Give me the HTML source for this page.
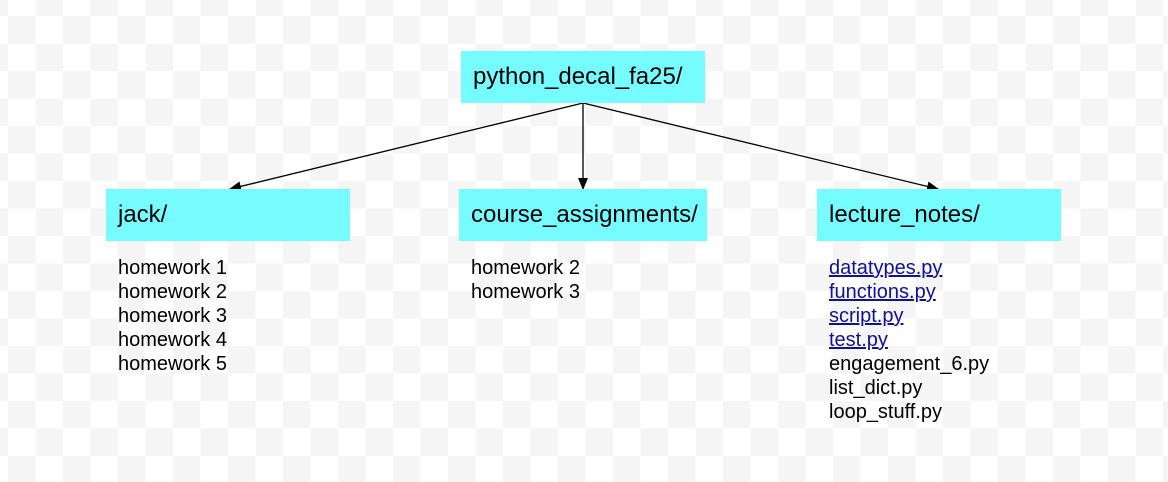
<!DOCTYPE html>
<html><head><meta charset="utf-8"><style>
html,body{margin:0;padding:0}
body{width:1168px;height:482px;position:relative;overflow:hidden;font-family:"Liberation Sans",Arial,sans-serif;
background-color:#fff;
background-image:conic-gradient(#fff 0 25%,#f5f5f5 0 50%,#fff 0 75%,#f5f5f5 0);
background-size:55px 55px;background-position:8px 16px;}
.box{position:absolute;background:#76fcff;height:52px;box-sizing:border-box;padding-left:12px;font-size:24px;line-height:52px;color:#000}
.list{position:absolute;font-size:20px;line-height:24px;color:#000}
.list a{color:#10109a;text-decoration:underline;display:block}
.list div{display:block}
svg{position:absolute;left:0;top:0}
</style></head><body>
<svg width="1168" height="482">
<defs><marker id="a" markerWidth="12" markerHeight="10" refX="11" refY="5" orient="auto" markerUnits="userSpaceOnUse"><path d="M0,0 L12,5 L0,10 z" fill="#000"/></marker></defs>
<line x1="583" y1="103" x2="230" y2="189" stroke="#000" stroke-width="1.3" marker-end="url(#a)"/>
<line x1="583" y1="103" x2="583" y2="189" stroke="#000" stroke-width="1.3" marker-end="url(#a)"/>
<line x1="583" y1="103" x2="938" y2="189" stroke="#000" stroke-width="1.3" marker-end="url(#a)"/>
</svg>
<div class="box" style="left:461px;top:51px;width:244px">python_decal_fa25/</div>
<div class="box" style="left:106px;top:189px;width:244px">jack/</div>
<div class="box" style="left:459px;top:189px;width:248px">course_assignments/</div>
<div class="box" style="left:817px;top:189px;width:244px">lecture_notes/</div>
<div class="list" style="left:118px;top:256px"><div>homework 1</div><div>homework 2</div><div>homework 3</div><div>homework 4</div><div>homework 5</div></div>
<div class="list" style="left:471px;top:256px"><div>homework 2</div><div>homework 3</div></div>
<div class="list" style="left:829px;top:256px"><a>datatypes.py</a><a>functions.py</a><a>script.py</a><a>test.py</a><div>engagement_6.py</div><div>list_dict.py</div><div>loop_stuff.py</div></div>
</body></html>
